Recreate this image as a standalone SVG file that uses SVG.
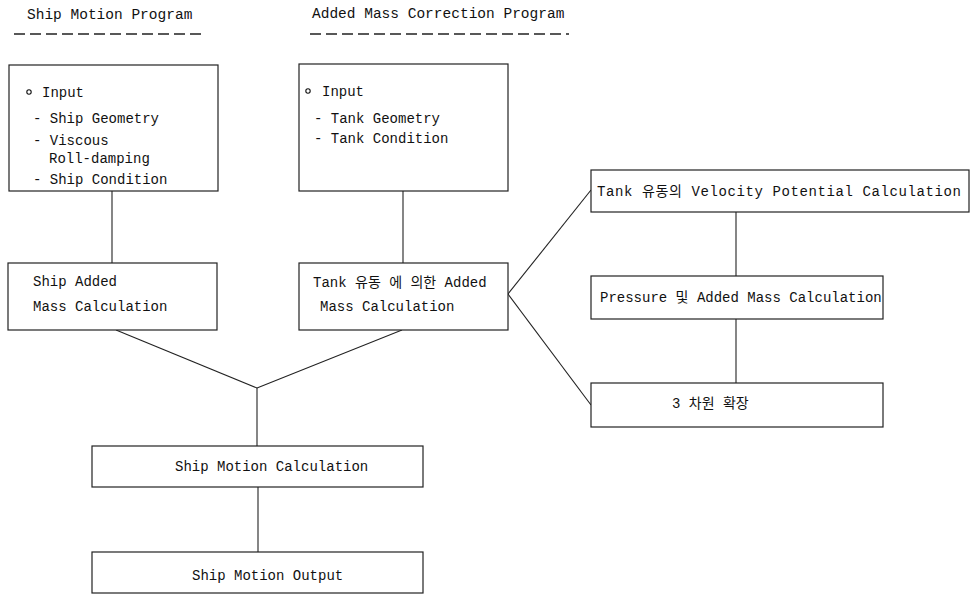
<svg xmlns="http://www.w3.org/2000/svg" width="970" height="595" viewBox="0 0 970 595">
<style>
.box{fill:#fff;stroke:#222;stroke-width:1.2}
.ln{stroke:#222;stroke-width:1.1;fill:none}
.dash{stroke:#222;stroke-width:1.3;stroke-dasharray:11 5;fill:none}
text{font-family:"Liberation Mono","Noto Sans CJK KR",monospace;font-size:14px;fill:#111}
.hd{font-size:14.5px}
.bul{fill:none;stroke:#111;stroke-width:1.1}
</style>
<rect width="970" height="595" fill="#fff"/>
<g id="headers">
<text class="hd" x="27" y="19">Ship Motion Program</text>
<line class="dash" x1="14" y1="34" x2="204" y2="34"/>
<text class="hd" x="312" y="18">Added Mass Correction Program</text>
<line class="dash" x1="310" y1="34" x2="569" y2="34"/>
</g>
<g id="connectors">
<line class="ln" x1="112" y1="191" x2="112" y2="263"/>
<line class="ln" x1="403" y1="191" x2="403" y2="263"/>
<line class="ln" x1="116" y1="330" x2="257" y2="388"/>
<line class="ln" x1="402" y1="330" x2="257" y2="388"/>
<line class="ln" x1="257" y1="388" x2="257" y2="446"/>
<line class="ln" x1="258" y1="487" x2="258" y2="552"/>
<line class="ln" x1="508" y1="294" x2="591" y2="190"/>
<line class="ln" x1="508" y1="294" x2="591" y2="405"/>
<line class="ln" x1="736" y1="212" x2="736" y2="276"/>
<line class="ln" x1="736" y1="319" x2="736" y2="383"/>
</g>
<g id="ship-input">
<rect class="box" x="9" y="65" width="209" height="126"/>
<circle class="bul" cx="29" cy="92" r="2.2"/>
<text x="42" y="97">Input</text>
<text x="33" y="123">- Ship Geometry</text>
<text x="33" y="145">- Viscous</text>
<text x="49" y="163">Roll-damping</text>
<text x="33" y="184">- Ship Condition</text>
</g>
<g id="tank-input">
<rect class="box" x="299" y="64" width="209" height="127"/>
<circle class="bul" cx="308" cy="91" r="2.2"/>
<text x="322" y="96">Input</text>
<text x="314" y="123">- Tank Geometry</text>
<text x="314" y="143">- Tank Condition</text>
</g>
<g id="ship-added-mass">
<rect class="box" x="8" y="263" width="209" height="67"/>
<text x="33" y="286">Ship Added</text>
<text x="33" y="311">Mass Calculation</text>
</g>
<g id="tank-added-mass">
<rect class="box" x="299" y="263" width="209" height="67"/>
<text x="313" y="287">Tank 유동 에 의한 Added</text>
<text x="320" y="311">Mass Calculation</text>
</g>
<g id="velocity-potential">
<rect class="box" x="591" y="170" width="378" height="42"/>
<text x="597" y="196" textLength="364" lengthAdjust="spacing">Tank 유동의 Velocity Potential Calculation</text>
</g>
<g id="pressure">
<rect class="box" x="591" y="276" width="292" height="43"/>
<text x="600" y="302">Pressure 및 Added Mass Calculation</text>
</g>
<g id="extension-3d">
<rect class="box" x="591" y="383" width="292" height="44"/>
<text x="672" y="408">3 차원 확장</text>
</g>
<g id="ship-motion-calc">
<rect class="box" x="92" y="446" width="331" height="41"/>
<text x="175" y="471">Ship Motion Calculation</text>
</g>
<g id="ship-motion-output">
<rect class="box" x="92" y="552" width="331" height="41"/>
<text x="192" y="580">Ship Motion Output</text>
</g>
</svg>
